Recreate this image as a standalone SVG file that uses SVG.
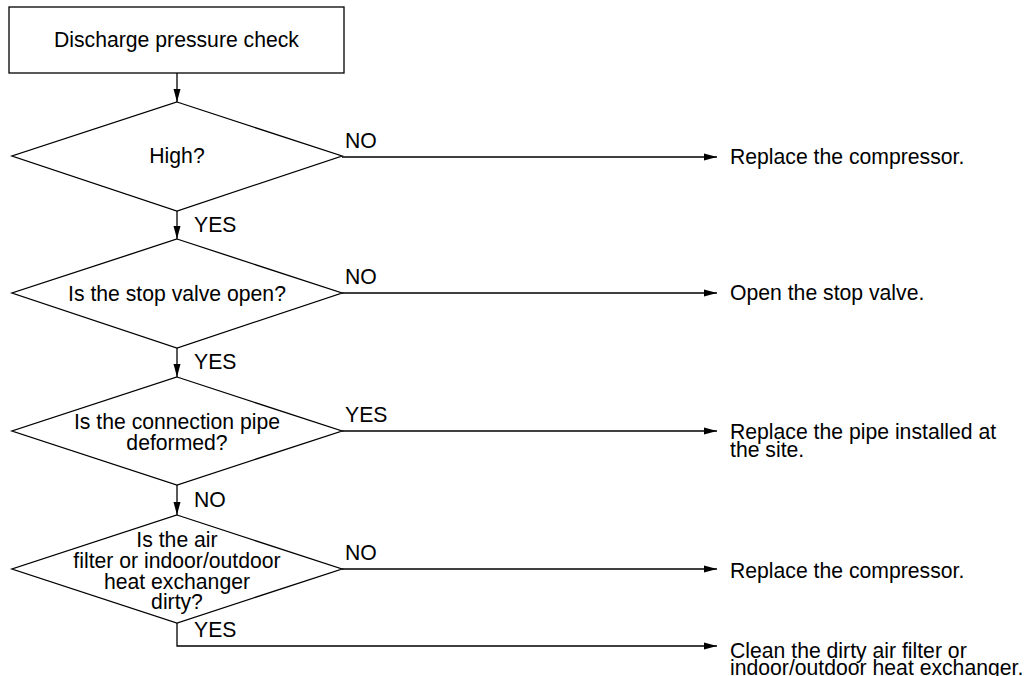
<svg xmlns="http://www.w3.org/2000/svg" width="1034" height="676" viewBox="0 0 1034 676">
<style>
.s{fill:#fff;stroke:#000;stroke-width:1.3}
.t{font-family:"Liberation Sans",Arial,sans-serif;font-size:21.2px;fill:#000}
.m{text-anchor:middle}
.c{fill:none;stroke:#000;stroke-width:1.3}
</style>
<defs>
<marker id="a" markerUnits="userSpaceOnUse" markerWidth="14" markerHeight="8" refX="13" refY="4" orient="auto">
<path d="M0,0.5 L13,4 L0,7.5 Z" fill="#000"/>
</marker>
</defs>
<rect width="1034" height="676" fill="#fff"/>
<g id="start">
<rect class="s" x="9" y="7" width="335" height="66"/>
<text class="t m" x="176.5" y="47">Discharge pressure check</text>
</g>
<g id="d1">
<polygon class="s" points="177,102 342,156 177,211 12,156"/>
<text class="t m" x="177" y="163">High?</text>
</g>
<g id="d2">
<polygon class="s" points="177,239 342,293 177,348 12,293"/>
<text class="t m" x="177" y="301">Is the stop valve open?</text>
</g>
<g id="d3">
<polygon class="s" points="177,377 342,431 177,485 12,431"/>
<text class="t m" x="177" y="429">Is the connection pipe</text>
<text class="t m" x="177" y="450">deformed?</text>
</g>
<g id="d4">
<polygon class="s" points="177,515 342,569 177,623 12,569"/>
<text class="t m" x="177" y="547">Is the air</text>
<text class="t m" x="177" y="568">filter or indoor/outdoor</text>
<text class="t m" x="177" y="589">heat exchanger</text>
<text class="t m" x="177" y="609">dirty?</text>
</g>
<g id="r1"><text class="t" x="730" y="164">Replace the compressor.</text></g>
<g id="r2"><text class="t" x="730" y="300">Open the stop valve.</text></g>
<g id="r3"><text class="t" x="730" y="439">Replace the pipe installed at</text><text class="t" x="730" y="457">the site.</text></g>
<g id="r4"><text class="t" x="730" y="578">Replace the compressor.</text></g>
<g id="r5"><text class="t" x="730" y="658">Clean the dirty air filter or</text><text class="t" x="730" y="675">indoor/outdoor heat exchanger.</text></g>
<g id="connectors">
<line class="c" x1="177" y1="73" x2="177" y2="102" marker-end="url(#a)"/>
<line class="c" x1="177" y1="211" x2="177" y2="239" marker-end="url(#a)"/>
<line class="c" x1="177" y1="348" x2="177" y2="377" marker-end="url(#a)"/>
<line class="c" x1="177" y1="485" x2="177" y2="515" marker-end="url(#a)"/>
<line class="c" x1="342" y1="157" x2="717" y2="157" marker-end="url(#a)"/>
<line class="c" x1="342" y1="293" x2="717" y2="293" marker-end="url(#a)"/>
<line class="c" x1="342" y1="431" x2="717" y2="431" marker-end="url(#a)"/>
<line class="c" x1="342" y1="569" x2="717" y2="569" marker-end="url(#a)"/>
<polyline class="c" points="177,623 177,646 717,646" marker-end="url(#a)"/>
<text class="t" x="345" y="148">NO</text>
<text class="t" x="345" y="284">NO</text>
<text class="t" x="345" y="422">YES</text>
<text class="t" x="345" y="560">NO</text>
<text class="t" x="194" y="232">YES</text>
<text class="t" x="194" y="369">YES</text>
<text class="t" x="194" y="507">NO</text>
<text class="t" x="194" y="637">YES</text>
</g>
</svg>
